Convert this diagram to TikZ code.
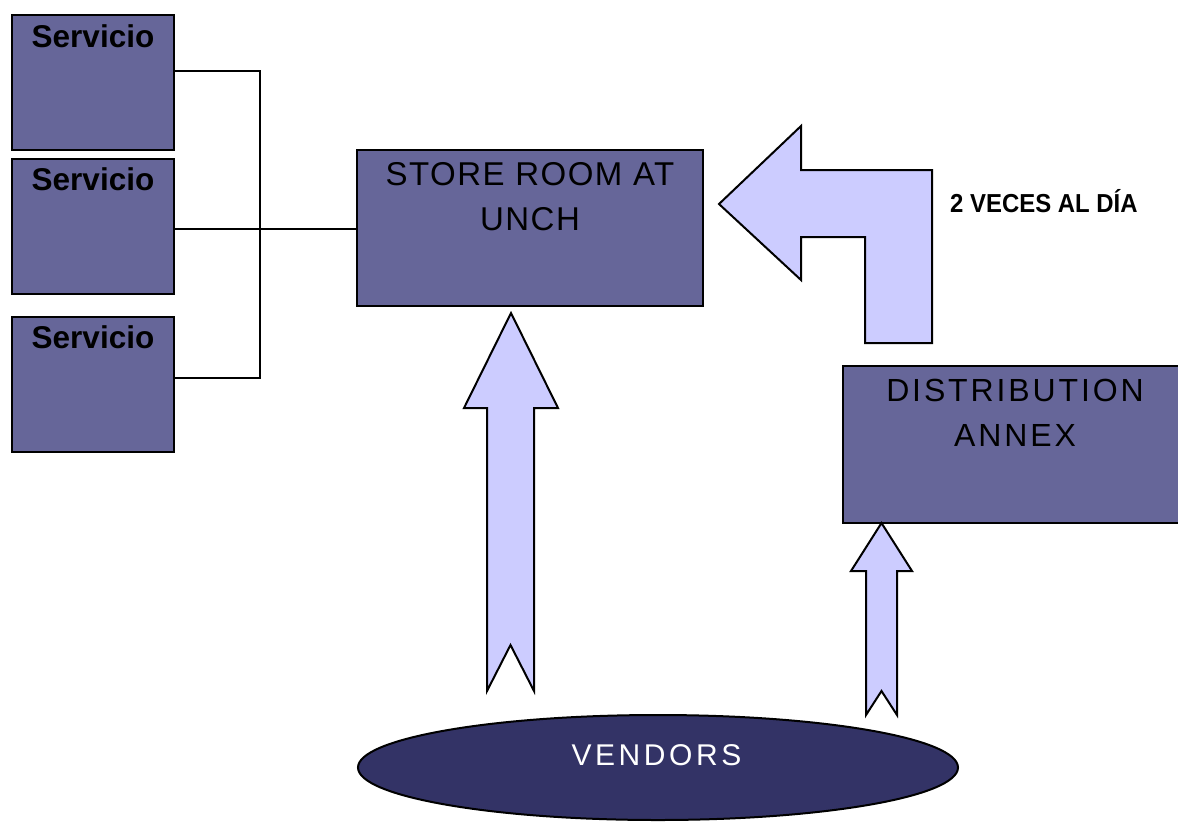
\documentclass[tikz,border=0pt]{standalone}
\usepackage{fontspec}
\setmainfont{Liberation Sans}
\newfontfamily\narrowbold[FakeStretch=0.92]{Liberation Sans}
\newfontfamily\spacedA[LetterSpace=4.5]{Liberation Sans}
\newfontfamily\spacedB[LetterSpace=9]{Liberation Sans}
\newfontfamily\spacedC[LetterSpace=12]{Liberation Sans}
\usetikzlibrary{shapes.geometric}
\definecolor{boxfill}{RGB}{102,102,153}
\definecolor{arrowfill}{RGB}{204,204,255}
\definecolor{ellfill}{RGB}{51,51,102}
\tikzset{
  unitbox/.style={draw=black, line width=2pt, fill=boxfill, inner sep=0pt, outer sep=0pt, rectangle},
  fatarrow/.style={draw=black, line width=2pt, fill=arrowfill, line join=miter},
  wire/.style={draw=black, line width=1.6pt},
  svclabel/.style={font=\fontsize{31.5}{36}\selectfont\bfseries, inner sep=0pt, anchor=base},
}
\begin{document}
\begin{tikzpicture}[x=1pt,y=-1pt]
\useasboundingbox (0,0) rectangle (1178,823);
\clip (0,0) rectangle (1178,823);

% service boxes
\node[unitbox, minimum width=162pt, minimum height=135pt] (s1) at (93,82.5) {};
\node[unitbox, minimum width=162pt, minimum height=135pt] (s2) at (93,226.5) {};
\node[unitbox, minimum width=162pt, minimum height=135pt] (s3) at (93,384.5) {};
\node[svclabel] (s1t) at (93,47) {Servicio};
\node[svclabel] (s2t) at (93,190) {Servicio};
\node[svclabel] (s3t) at (93,348) {Servicio};

% store room
\node[unitbox, minimum width=346pt, minimum height=156pt] (store) at (530,228) {};
\node[inner sep=0pt, anchor=north, align=center, font=\fontsize{33}{45}\selectfont\spacedA] (storet) at (530,162) {STORE ROOM AT\\UNCH};

% distribution annex
\node[unitbox, minimum width=344pt, minimum height=157pt] (annex) at (1015,444.5) {};
\node[inner sep=0pt, anchor=north, align=center, font=\fontsize{32}{45}\selectfont\spacedB] (annext) at (1015,379) {DISTRIBUTION\\ANNEX};

% wiring
\coordinate (jtop) at (260,71);
\coordinate (jmid) at (260,229);
\coordinate (jbot) at (260,378);
\draw[wire] (jtop -| s1.east) -- (jtop) -- (jbot) -- (jbot -| s3.east);
\draw[wire] (jmid -| s2.east) -- (jmid -| store.west);

% vendors
\node[ellipse, draw=black, line width=2pt, fill=ellfill, minimum width=600pt, minimum height=105pt, inner sep=0pt] (vendors) at (658,767.5) {};
\node[inner sep=0pt, anchor=base, text=white, font=\fontsize{30}{34}\selectfont\spacedC] (vendt) at (656.5,765) {VENDORS};

% big arrow vendors -> store
\draw[fatarrow] (511,313) -- (558,408) -- (534,408) -- (534,691) -- (510.5,645) -- (487,691) -- (487,408) -- (464,408) -- cycle;
% small arrow vendors -> annex
\draw[fatarrow] (881.5,523) -- (912,571) -- (897,571) -- (897,715) -- (881.5,691) -- (866,715) -- (866,571) -- (851,571) -- cycle;
% bent arrow annex -> store
\draw[fatarrow] (719,204) -- (801,126) -- (801,170) -- (932,170) -- (932,343) -- (865,343) -- (865,237) -- (801,237) -- (801,280) -- cycle;

\node[inner sep=0pt, anchor=base west, font=\fontsize{26}{30}\selectfont\narrowbold\bfseries] (freq) at (950,212) {2 VECES AL DÍA};
\end{tikzpicture}
\end{document}
